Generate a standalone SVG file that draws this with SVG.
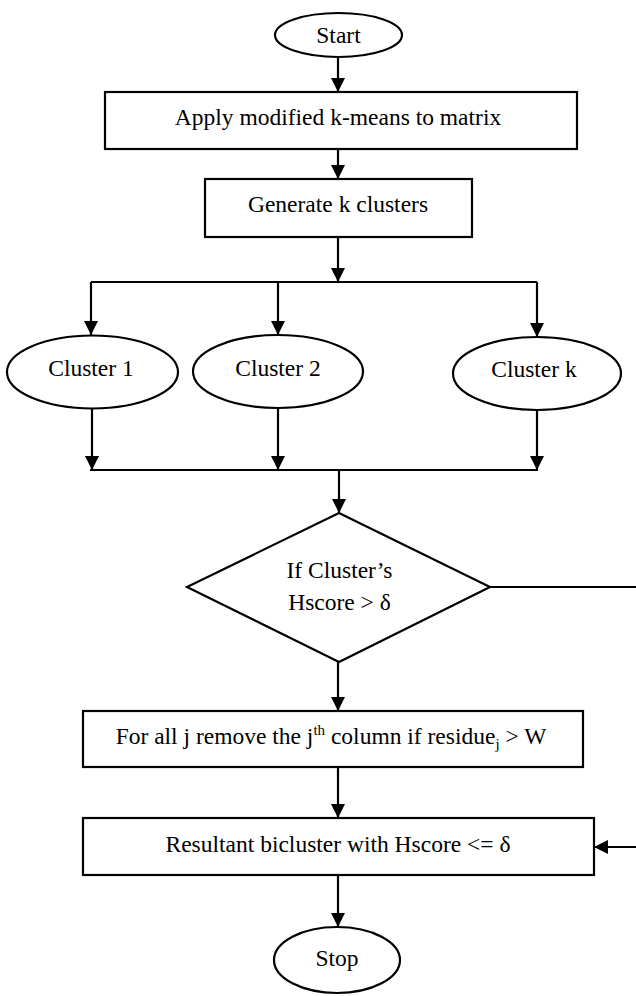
<svg xmlns="http://www.w3.org/2000/svg" width="636" height="996" viewBox="0 0 636 996">
<style>
.s{fill:#fff;stroke:#000;stroke-width:2.2}
.t{font-family:"Liberation Serif","Times New Roman",serif;font-size:23.5px;fill:#000;text-anchor:middle}
.c{fill:none;stroke:#000;stroke-width:2.2}
</style>
<defs>
<marker id="ah" markerWidth="14" markerHeight="14" viewBox="0 0 14 14" refX="14" refY="7" orient="auto" markerUnits="userSpaceOnUse">
<path d="M0,0 L14,7 L0,14 Z" fill="#000"/>
</marker>
</defs>
<rect width="636" height="996" fill="#fff"/>
<g id="connectors">
<path class="c" d="M338,57 V92" marker-end="url(#ah)"/>
<path class="c" d="M338,149 V179" marker-end="url(#ah)"/>
<path class="c" d="M338,237 V282" marker-end="url(#ah)"/>
<path class="c" d="M91,282 H537"/>
<path class="c" d="M91,282 V335" marker-end="url(#ah)"/>
<path class="c" d="M278,282 V335" marker-end="url(#ah)"/>
<path class="c" d="M537,282 V337" marker-end="url(#ah)"/>
<path class="c" d="M92,408 V470" marker-end="url(#ah)"/>
<path class="c" d="M278,408 V470" marker-end="url(#ah)"/>
<path class="c" d="M537,410 V470" marker-end="url(#ah)"/>
<path class="c" d="M90,470 H538"/>
<path class="c" d="M339,470 V513" marker-end="url(#ah)"/>
<path class="c" d="M338,662 V711" marker-end="url(#ah)"/>
<path class="c" d="M338,767 V818" marker-end="url(#ah)"/>
<path class="c" d="M338,875 V927" marker-end="url(#ah)"/>
<path class="c" d="M490,587 H642 V847 H594" marker-end="url(#ah)"/>
</g>
<g id="start">
<ellipse class="s" cx="338.5" cy="35" rx="63.5" ry="22"/>
<text class="t" x="338.5" y="43">Start</text>
</g>
<g id="apply">
<rect class="s" x="105" y="92" width="472" height="57"/>
<text class="t" x="338" y="125">Apply modified k-means to matrix</text>
</g>
<g id="generate">
<rect class="s" x="205" y="179" width="267" height="58"/>
<text class="t" x="338" y="212">Generate k clusters</text>
</g>
<g id="cluster1">
<ellipse class="s" cx="92.5" cy="372" rx="85.5" ry="36.5"/>
<text class="t" x="91" y="376">Cluster 1</text>
</g>
<g id="cluster2">
<ellipse class="s" cx="278" cy="371.5" rx="85" ry="36.5"/>
<text class="t" x="278" y="376">Cluster 2</text>
</g>
<g id="clusterk">
<ellipse class="s" cx="537" cy="373.5" rx="84" ry="36.5"/>
<text class="t" x="534" y="377">Cluster k</text>
</g>
<g id="decision">
<polygon class="s" points="339,513 490,587 339,662 187,587"/>
<text class="t" x="339.5" y="578">If Cluster’s</text>
<text class="t" x="339.5" y="610">Hscore &gt; δ</text>
</g>
<g id="remove">
<rect class="s" x="83" y="711" width="500" height="56"/>
<text class="t" x="331" y="744">For all j remove the j<tspan font-size="15" dy="-9">th</tspan><tspan dy="9"> column if residue</tspan><tspan font-size="15" dy="5">j</tspan><tspan dy="-5"> &gt; W</tspan></text>
</g>
<g id="result">
<rect class="s" x="83" y="818" width="511" height="57"/>
<text class="t" x="338" y="852">Resultant bicluster with Hscore &lt;= δ</text>
</g>
<g id="stop">
<ellipse class="s" cx="337" cy="960" rx="63" ry="33"/>
<text class="t" x="337" y="966">Stop</text>
</g>
</svg>
